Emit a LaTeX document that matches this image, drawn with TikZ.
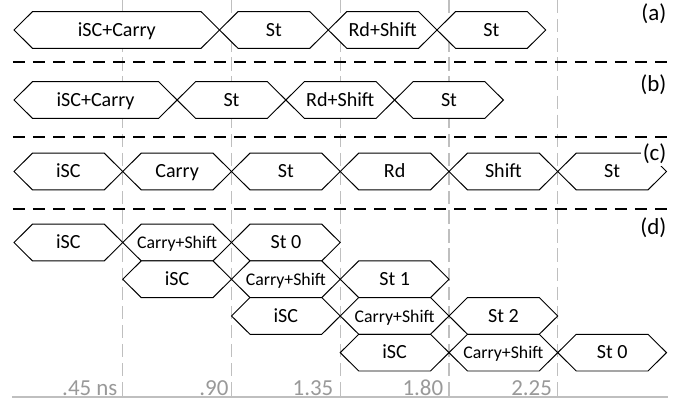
\documentclass[tikz,border=0pt]{standalone}
\usepackage{fontspec}
\setmainfont{Carlito}

% one bus value: name, start, end, row, text
\newcommand{\hexsig}[5]{%
  \draw[sig] (#2,#4) -- (#2+0.17,#4+0.5) -- (#3-0.17,#4+0.5) -- (#3,#4) -- (#3-0.17,#4-0.5) -- (#2+0.17,#4-0.5) -- cycle;
  \node[sigtext] (#1) at ({(#2+#3)/2},#4) {#5};%
}
\newcommand{\tightfont}{\fontsize{9.3}{11}\selectfont}

\begin{document}
\begin{tikzpicture}[x=2cm, y=0.675cm,
  sig/.style={draw=black, line width=0.5pt, fill=white},
  sigtext/.style={inner sep=0pt, text height=6.6pt, text depth=0pt, font=\fontsize{10.5}{12}\selectfont},
  gridline/.style={draw=black!25, line width=0.6pt, dash pattern=on 7pt off 3pt},
  sepline/.style={draw=black, line width=0.7pt, dash pattern=on 6.3pt off 4.2pt},
  axisline/.style={draw=black!25, line width=0.6pt},
  ticklabel/.style={anchor=base east, inner sep=0pt, text=black!40, font=\fontsize{12}{14}\selectfont},
  caselabel/.style={anchor=east, fill=white, inner sep=1pt, font=\fontsize{12}{14}\selectfont}]
	\useasboundingbox (-0.1287,0) rectangle (6.2437,-10.954);
	
	\draw[gridline] (1,0) -- (1,-10.817);%Raster
	\draw[gridline] (2,0) -- (2,-10.817);
	\draw[gridline] (3,0) -- (3,-10.817);
	\draw[gridline] (4,0) -- (4,-10.817);
	\draw[gridline] (5,0) -- (5,-10.817);
	
	\draw[axisline] (-0.02,-10.817) -- (6.014,-10.817);%Zeitachse
	\node[ticklabel] (t1) at (0.955,-10.763) {.45 ns};
	\node[ticklabel] (t2) at (1.975,-10.763) {.90};
	\node[ticklabel] (t3) at (2.94,-10.763) {1.35};
	\node[ticklabel] (t4) at (3.95,-10.763) {1.80};
	\node[ticklabel] (t5) at (4.95,-10.763) {2.25};
	
	\draw[sepline] (-0.01,-1.689) -- (6.014,-1.689);%Trennlinien
	\draw[sepline] (-0.01,-3.733) -- (6.014,-3.733);
	\draw[sepline] (-0.01,-5.695) -- (6.014,-5.695);
	
	%(a)
	\hexsig{a1}{0}{1.89}{-0.817}{iSC+Carry}
	\hexsig{a2}{1.89}{2.89}{-0.817}{St}
	\hexsig{a3}{2.89}{3.89}{-0.817}{Rd+Shift}
	\hexsig{a4}{3.89}{4.89}{-0.817}{St}
	
	%(b)
	\hexsig{b1}{0}{1.5}{-2.725}{iSC+Carry}
	\hexsig{b2}{1.5}{2.5}{-2.725}{St}
	\hexsig{b3}{2.5}{3.5}{-2.725}{Rd+Shift}
	\hexsig{b4}{3.5}{4.5}{-2.725}{St}
	
	%(c)
	\hexsig{c1}{0}{1}{-4.673}{iSC}
	\hexsig{c2}{1}{2}{-4.673}{Carry}
	\hexsig{c3}{2}{3}{-4.673}{St}
	\hexsig{c4}{3}{4}{-4.673}{Rd}
	\hexsig{c5}{4}{5}{-4.673}{Shift}
	\hexsig{c6}{5}{6}{-4.673}{St}
	
	%(d) vier Iterationen versetzt
	\hexsig{d11}{0}{1}{-6.608}{iSC}
	\hexsig{d12}{1}{2}{-6.608}{\tightfont Carry+Shift}
	\hexsig{d13}{2}{3}{-6.608}{St 0}
	\hexsig{d21}{1}{2}{-7.608}{iSC}
	\hexsig{d22}{2}{3}{-7.608}{\tightfont Carry+Shift}
	\hexsig{d23}{3}{4}{-7.608}{St 1}
	\hexsig{d31}{2}{3}{-8.608}{iSC}
	\hexsig{d32}{3}{4}{-8.608}{\tightfont Carry+Shift}
	\hexsig{d33}{4}{5}{-8.608}{St 2}
	\hexsig{d41}{3}{4}{-9.608}{iSC}
	\hexsig{d42}{4}{5}{-9.608}{\tightfont Carry+Shift}
	\hexsig{d43}{5}{6}{-9.608}{St 0}
	
	\node[caselabel] (la) at (6.02,-0.38) {(a)};
	\node[caselabel] (lb) at (6.02,-2.32) {(b)};
	\node[caselabel] (lc) at (6.02,-4.2) {(c)};
	\node[caselabel] (ld) at (6.02,-6.21) {(d)};
	
\end{tikzpicture}
\end{document}
